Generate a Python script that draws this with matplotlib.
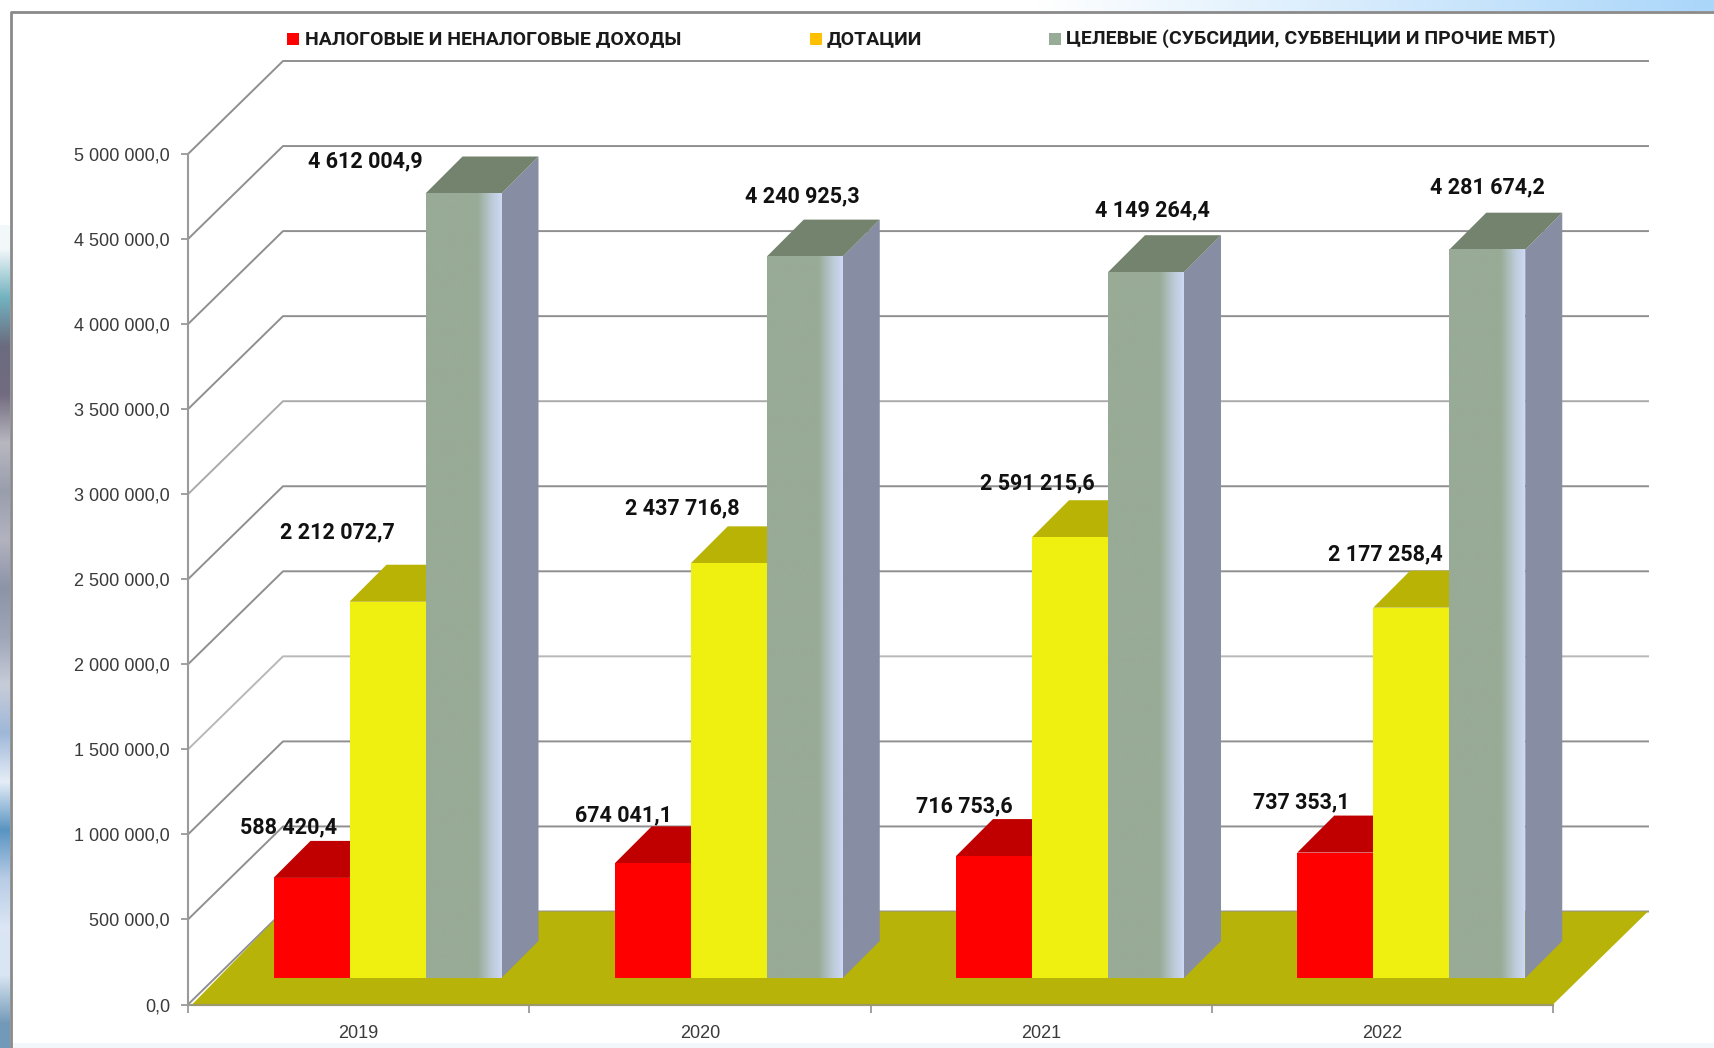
import matplotlib
matplotlib.use("Agg")
import matplotlib.pyplot as plt
import numpy as np
from matplotlib.colors import LinearSegmentedColormap
from matplotlib.patches import Rectangle

plt.rcParams['font.family'] = ['Roboto', 'DejaVu Sans']

years = ["2019", "2020", "2021", "2022"]
series_names = ["НАЛОГОВЫЕ И НЕНАЛОГОВЫЕ ДОХОДЫ", "ДОТАЦИИ",
                "ЦЕЛЕВЫЕ (СУБСИДИИ, СУБВЕНЦИИ И ПРОЧИЕ МБТ)"]
own_income = [588420.4, 674041.1, 716753.6, 737353.1]
grants = [2212072.7, 2437716.8, 2591215.6, 2177258.4]
targeted = [4612004.9, 4240925.3, 4149264.4, 4281674.2]
own_labels = ["588 420,4", "674 041,1", "716 753,6", "737 353,1"]
grants_labels = ["2 212 072,7", "2 437 716,8", "2 591 215,6", "2 177 258,4"]
targeted_labels = ["4 612 004,9", "4 240 925,3", "4 149 264,4", "4 281 674,2"]
y_ticks = [0, 500000, 1000000, 1500000, 2000000, 2500000, 3000000, 3500000,
           4000000, 4500000, 5000000]
y_tick_labels = ["0,0", "500 000,0", "1 000 000,0", "1 500 000,0", "2 000 000,0",
                 "2 500 000,0", "3 000 000,0", "3 500 000,0", "4 000 000,0",
                 "4 500 000,0", "5 000 000,0"]
grid_colors = ["#8f8f8f", "#8f8f8f", "#8f8f8f", "#b8b8b8", "#8f8f8f", "#8f8f8f",
               "#aaaaaa", "#8f8f8f", "#8f8f8f", "#8f8f8f", "#8f8f8f"]

W, H = 1714, 1048
fig = plt.figure(figsize=(W / 100, H / 100), dpi=100, facecolor="white")

# background picture peeking out around the white slide panel
bg = fig.add_axes([0, 0, 1, 1], zorder=0)
bg.set_xlim(0, W)
bg.set_ylim(H, 0)
bg.axis("off")
left_strip = np.array([[.95, .97, .98], [.45, .7, .75], [.42, .42, .5], [.45, .42, .5],
                       [.72, .72, .75], [.6, .62, .68], [.7, .7, .75], [.55, .58, .66],
                       [.62, .65, .72], [.78, .8, .85], [.62, .72, .85], [.9, .93, .97],
                       [.35, .58, .76], [.72, .8, .9], [.86, .9, .96], [.85, .9, .95],
                       [.45, .6, .72]])
bg.imshow(left_strip[:, None, :], extent=[0, 10, 1048, 225], aspect="auto",
          interpolation="bilinear")
top_grad = np.linspace(0, 1, 50)[None, :, None] * np.array([[[-.33, -.16, -.02]]]) + 1
bg.imshow(top_grad, extent=[1030, W, 11, 0], aspect="auto", interpolation="bilinear")
bg.set_xlim(0, W)
bg.set_ylim(H, 0)
bg.add_patch(Rectangle((12, 1043), W, 5, color="#f1f7fb", lw=0))
bg.plot([11, 11, W], [H, 12, 12], color="#8a8a8a", lw=2)

# chart area: x in categories, y in values
ax = fig.add_axes([188 / W, 1 - 1004.5 / H, 1365 / W, 850.5 / H], zorder=1)
ax.patch.set_alpha(0)
ax.set_xlim(0, 4)
ax.set_ylim(0, 5000000)
for s in ["top", "right"]:
    ax.spines[s].set_visible(False)
for s in ["left", "bottom"]:
    ax.spines[s].set_color("#9a9a9a")
    ax.spines[s].set_linewidth(1.5)
    ax.spines[s].set_zorder(1)

px_x = 4 / 1365
px_y = 5000000 / 850.5
wall_dx, wall_dy = 95 * px_x, 93 * px_y
bar_dx, bar_dy = 37 * px_x, 37 * px_y
floor_y = 26.5 * px_y
bar_w = 76 * px_x
first_left = 85.5 * px_x

# back wall grid and floor
for v, c in zip(y_ticks, grid_colors):
    ax.plot([0, wall_dx, 4 + wall_dx], [v, v + wall_dy, v + wall_dy],
            color=c, lw=1.4, clip_on=False, zorder=1)
ax.fill([0.012, 4, 4 + wall_dx, wall_dx], [0, 0, wall_dy, wall_dy], color="#B7B308",
        lw=0, clip_on=False, zorder=2)
ax.plot([0.012, 4], [0, 0], color="#9c9a6a", lw=1.5, zorder=2, clip_on=False)


def bar3d(x0, v, front, top, side, grad=None):
    base = floor_y
    y1 = base + v
    # right side, then top, then the front face
    ax.fill([x0 + bar_w, x0 + bar_w + bar_dx, x0 + bar_w + bar_dx, x0 + bar_w],
            [base, base + bar_dy, y1 + bar_dy, y1], color=side, lw=0, zorder=3,
            clip_on=False)
    ax.fill([x0, x0 + bar_w, x0 + bar_w + bar_dx, x0 + bar_dx],
            [y1, y1, y1 + bar_dy, y1 + bar_dy], color=top, lw=0, zorder=3,
            clip_on=False)
    if grad is None:
        ax.add_patch(Rectangle((x0, base), bar_w, v, color=front, lw=0, zorder=4))
    else:
        ax.imshow(np.linspace(0, 1, 64)[None, :],
                  extent=[x0, x0 + bar_w, base, y1], aspect="auto", cmap=grad,
                  zorder=4, vmin=0, vmax=1, interpolation="bilinear")


green_cm = LinearSegmentedColormap.from_list(
    "g", [(0, "#98AB96"), (.68, "#98AB96"), (.88, "#BCCBD8"), (1, "#CDD8F3")])

for i in range(4):
    x0 = i + first_left
    bar3d(x0, own_income[i], "#FF0000", "#C00000", "#C00000")
    bar3d(x0 + 2 * bar_w, targeted[i], "#98AB96", "#73836D", "#878DA2", green_cm)
    bar3d(x0 + bar_w, grants[i], "#F0F010", "#B9B305", "#B9B305")

ax.set_xlim(0, 4)
ax.set_ylim(0, 5000000)

# value labels: offsets in pixels from the front-left corner of the bar top
own_off = [(15, 51), (9, 48), (8, 50), (4, 50)]
grants_off = [(-12, 69), (-8, 55), (5, 54), (12, 53)]
targeted_off = [(-60, 32), (36, 60), (44, 62), (38, 62)]
for i in range(4):
    x0 = i + first_left
    for k, vals, labs, off in [(0, own_income, own_labels, own_off),
                               (1, grants, grants_labels, grants_off),
                               (2, targeted, targeted_labels, targeted_off)]:
        ax.annotate(labs[i], (x0 + k * bar_w, floor_y + vals[i]), xytext=off[i],
                    textcoords="offset pixels", ha="center", va="center",
                    fontsize=15.5, fontweight="bold", color="#111111", zorder=6,
                    annotation_clip=False)

ax.set_yticks(y_ticks)
ax.set_yticklabels(y_tick_labels, fontsize=13, color="#3a3a3a", family=["Liberation Sans"])
ax.set_xticks([0, 1, 2, 3, 4])
ax.set_xticklabels([])
ax.set_xticks([0.5, 1.5, 2.5, 3.5], minor=True)
ax.set_xticklabels(years, minor=True, fontsize=13, color="#3a3a3a", family=["Liberation Sans"])
ax.tick_params(axis="x", which="major", length=6, width=1.3, color="#9a9a9a", direction="out")
ax.tick_params(axis="x", which="minor", length=0, pad=15)
ax.tick_params(axis="y", length=5, width=1.3, color="#9a9a9a", pad=8)

# legend across the top
legend_colors = ["#FF0000", "#FFC000", "#98AB96"]
legend_x = [287, 810, 1049]
legend_text_x = [305, 827, 1066]
for name, c, lx, tx in zip(series_names, legend_colors, legend_x, legend_text_x):
    bg.add_patch(Rectangle((lx, 33), 12, 12, color=c, lw=0))
    bg.text(tx, 39, name, ha="left", va="center", fontsize=14, fontweight="bold",
            color="#1a1a1a")

fig.savefig("out.png", dpi=100)
